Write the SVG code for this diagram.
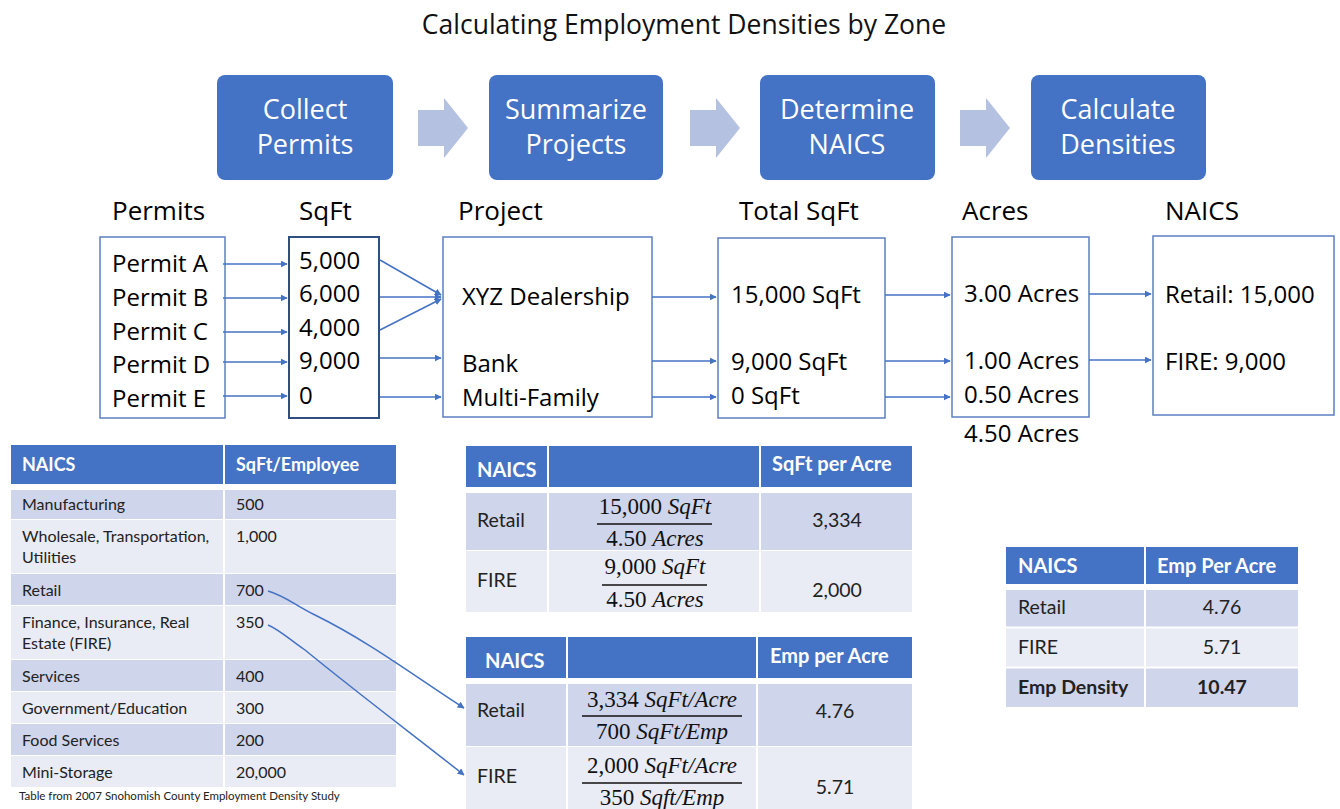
<svg xmlns="http://www.w3.org/2000/svg" width="1340" height="809" viewBox="0 0 1340 809">
<style>
.flow{font-family:"Open Sans",sans-serif;font-size:24px;fill:#000}
.hdr{font-family:"Open Sans",sans-serif;font-size:26px;fill:#000}
.step{font-family:"Open Sans",sans-serif;font-size:27px;fill:#fff;text-anchor:middle}
.stepbox{fill:#4472C4}
.chev{fill:#B4C1E1}
.box{fill:#fff;stroke:#5B7FC0;stroke-width:1.5}
.box2{fill:#fff;stroke:#2F4F80;stroke-width:2}
.conn{stroke:#4472C4;stroke-width:1.5;fill:none;marker-end:url(#ah)}
.th{fill:#4472C4}
.rd{fill:#CFD5EA}
.rl{fill:#E9EBF5}
.tt{font-family:Lato,sans-serif;font-size:16px;fill:#222}
.tw{font-family:Lato,sans-serif;font-size:18px;font-weight:bold;fill:#fff}
.mt{font-family:Lato,sans-serif;font-size:19.5px;fill:#222}
.mh{font-family:Lato,sans-serif;font-size:20px;font-weight:bold;fill:#fff}
.fr{font-family:"Liberation Serif",serif;font-size:23px;fill:#111;text-anchor:middle}
.fr tspan.v{font-style:italic}
.sep{stroke:#fff;stroke-width:2}
.fl{stroke:#111;stroke-width:1.5}
</style>
<defs>
<marker id="ah" viewBox="0 0 10 10" refX="9" refY="5" markerWidth="7" markerHeight="7" orient="auto" markerUnits="userSpaceOnUse">
<path d="M0,0 L10,5 L0,10 z" fill="#4472C4"/>
</marker>
</defs>
<rect width="1340" height="809" fill="#fff"/>
<text x="684" y="34" font-family="Open Sans, sans-serif" font-size="26.5" text-anchor="middle" fill="#111">Calculating Employment Densities by Zone</text>

<g id="step-collect"><rect class="stepbox" x="217" y="75" width="176" height="105" rx="8"/><text class="step" x="305" y="119">Collect</text><text class="step" x="305" y="154">Permits</text></g>
<g id="step-summarize"><rect class="stepbox" x="489" y="75" width="174" height="105" rx="8"/><text class="step" x="576" y="119">Summarize</text><text class="step" x="576" y="154">Projects</text></g>
<g id="step-determine"><rect class="stepbox" x="760" y="75" width="175" height="105" rx="8"/><text class="step" x="847" y="119">Determine</text><text class="step" x="847" y="154">NAICS</text></g>
<g id="step-calculate"><rect class="stepbox" x="1031" y="75" width="175" height="105" rx="8"/><text class="step" x="1118" y="119">Calculate</text><text class="step" x="1118" y="154">Densities</text></g>
<g id="chevrons">
<path class="chev" d="M418,110 H444 V98 L468,128 L444,158 V146 H418 Z"/>
<path class="chev" d="M690,110 H716 V98 L740,128 L716,158 V146 H690 Z"/>
<path class="chev" d="M960,110 H986 V98 L1010,128 L986,158 V146 H960 Z"/>
</g>

<g id="col-headers">
<text class="hdr" x="112" y="220">Permits</text>
<text class="hdr" x="299" y="220">SqFt</text>
<text class="hdr" x="458" y="220">Project</text>
<text class="hdr" x="739" y="220">Total SqFt</text>
<text class="hdr" x="962" y="220">Acres</text>
<text class="hdr" x="1165" y="220">NAICS</text>
</g>

<g id="permits">
<rect class="box" x="100" y="237" width="125" height="181"/>
<text class="flow" x="112" y="272">Permit A</text>
<text class="flow" x="112" y="306">Permit B</text>
<text class="flow" x="112" y="340">Permit C</text>
<text class="flow" x="112" y="373">Permit D</text>
<text class="flow" x="112" y="407">Permit E</text>
</g>
<g id="sqft">
<rect class="box2" x="289" y="237" width="90" height="181"/>
<text class="flow" x="299" y="269">5,000</text>
<text class="flow" x="299" y="302">6,000</text>
<text class="flow" x="299" y="336">4,000</text>
<text class="flow" x="299" y="369">9,000</text>
<text class="flow" x="299" y="404">0</text>
</g>
<g id="project">
<rect class="box" x="443" y="237" width="209" height="180"/>
<text class="flow" x="462" y="305">XYZ Dealership</text>
<text class="flow" x="462" y="372">Bank</text>
<text class="flow" x="462" y="406">Multi-Family</text>
</g>
<g id="total">
<rect class="box" x="718" y="238" width="167" height="180"/>
<text class="flow" x="731" y="303">15,000 SqFt</text>
<text class="flow" x="731" y="370">9,000 SqFt</text>
<text class="flow" x="731" y="404">0 SqFt</text>
</g>
<g id="acres">
<rect class="box" x="952" y="237" width="137" height="180"/>
<text class="flow" x="964" y="302">3.00 Acres</text>
<text class="flow" x="964" y="369">1.00 Acres</text>
<text class="flow" x="964" y="403">0.50 Acres</text>
<text class="flow" x="964" y="442">4.50 Acres</text>
</g>
<g id="naics">
<rect class="box" x="1153" y="236" width="181" height="179"/>
<text class="flow" x="1165" y="303">Retail: 15,000</text>
<text class="flow" x="1165" y="370">FIRE: 9,000</text>
</g>

<g id="table-sqft-employee">
<rect class="th" x="11" y="445" width="385" height="39"/>
<line class="sep" x1="224" y1="445" x2="224" y2="484"/>
<text class="tw" x="22" y="471">NAICS</text>
<text class="tw" x="236" y="471">SqFt/Employee</text>
<rect class="rd" x="11" y="490" width="385" height="29"/>
<rect class="rl" x="11" y="520" width="385" height="53"/>
<rect class="rd" x="11" y="574" width="385" height="31"/>
<rect class="rl" x="11" y="606" width="385" height="53"/>
<rect class="rd" x="11" y="660" width="385" height="31"/>
<rect class="rl" x="11" y="692" width="385" height="31"/>
<rect class="rd" x="11" y="724" width="385" height="31"/>
<rect class="rl" x="11" y="756" width="385" height="31"/>
<line class="sep" x1="224" y1="490" x2="224" y2="787"/>
<text class="tt" x="22" y="510">Manufacturing</text><text class="tt" x="236" y="510">500</text>
<text class="tt" x="22" y="542">Wholesale, Transportation,</text><text class="tt" x="22" y="563">Utilities</text><text class="tt" x="236" y="542">1,000</text>
<text class="tt" x="22" y="596">Retail</text><text class="tt" x="236" y="596">700</text>
<text class="tt" x="22" y="628">Finance, Insurance, Real</text><text class="tt" x="22" y="649">Estate (FIRE)</text><text class="tt" x="236" y="628">350</text>
<text class="tt" x="22" y="682">Services</text><text class="tt" x="236" y="682">400</text>
<text class="tt" x="22" y="714">Government/Education</text><text class="tt" x="236" y="714">300</text>
<text class="tt" x="22" y="746">Food Services</text><text class="tt" x="236" y="746">200</text>
<text class="tt" x="22" y="778">Mini-Storage</text><text class="tt" x="236" y="778">20,000</text>
<text x="19" y="800" font-family="Lato, sans-serif" font-size="11.5" fill="#222">Table from 2007 Snohomish County Employment Density Study</text>
</g>

<g id="table-sqft-acre">
<rect class="th" x="466" y="446" width="446" height="41"/>
<line class="sep" x1="548" y1="446" x2="548" y2="487"/>
<line class="sep" x1="760" y1="446" x2="760" y2="487"/>
<text class="mh" x="477" y="477">NAICS</text>
<text class="mh" x="772" y="471">SqFt per Acre</text>
<rect class="rd" x="466" y="493" width="446" height="57"/>
<rect class="rl" x="466" y="551" width="446" height="61"/>
<line class="sep" x1="548" y1="493" x2="548" y2="612"/>
<line class="sep" x1="760" y1="493" x2="760" y2="612"/>
<text class="mt" x="477" y="527">Retail</text>
<text class="fr" x="655" y="514">15,000 <tspan class="v">SqFt</tspan></text>
<line class="fl" x1="597" y1="524" x2="712" y2="524"/>
<text class="fr" x="655" y="546">4.50 <tspan class="v">Acres</tspan></text>
<text class="mt" x="837" y="527" text-anchor="middle">3,334</text>
<text class="mt" x="477" y="587">FIRE</text>
<text class="fr" x="655" y="574">9,000 <tspan class="v">SqFt</tspan></text>
<line class="fl" x1="602" y1="585" x2="707" y2="585"/>
<text class="fr" x="655" y="607">4.50 <tspan class="v">Acres</tspan></text>
<text class="mt" x="837" y="597" text-anchor="middle">2,000</text>
</g>

<g id="table-emp-acre">
<rect class="th" x="466" y="637" width="446" height="41"/>
<line class="sep" x1="567" y1="637" x2="567" y2="678"/>
<line class="sep" x1="757" y1="637" x2="757" y2="678"/>
<text class="mh" x="485" y="668">NAICS</text>
<text class="mh" x="770" y="663">Emp per Acre</text>
<rect class="rd" x="466" y="684" width="446" height="62"/>
<rect class="rl" x="466" y="747" width="446" height="62"/>
<line class="sep" x1="567" y1="684" x2="567" y2="809"/>
<line class="sep" x1="757" y1="684" x2="757" y2="809"/>
<text class="mt" x="477" y="717">Retail</text>
<text class="fr" x="662" y="707">3,334 <tspan class="v">SqFt/Acre</tspan></text>
<line class="fl" x1="582" y1="716" x2="742" y2="716"/>
<text class="fr" x="662" y="739">700 <tspan class="v">SqFt/Emp</tspan></text>
<text class="mt" x="835" y="718" text-anchor="middle">4.76</text>
<text class="mt" x="477" y="783">FIRE</text>
<text class="fr" x="662" y="773">2,000 <tspan class="v">SqFt/Acre</tspan></text>
<line class="fl" x1="582" y1="783" x2="742" y2="783"/>
<text class="fr" x="662" y="805">350 <tspan class="v">Sqft/Emp</tspan></text>
<text class="mt" x="835" y="794" text-anchor="middle">5.71</text>
</g>

<g id="table-density">
<rect class="th" x="1006" y="547" width="292" height="37"/>
<line class="sep" x1="1145" y1="547" x2="1145" y2="584"/>
<text class="mh" x="1018" y="573">NAICS</text>
<text class="mh" x="1157" y="573">Emp Per Acre</text>
<rect class="rd" x="1006" y="590" width="292" height="37"/>
<rect class="rl" x="1006" y="628" width="292" height="39"/>
<rect class="rd" x="1006" y="668" width="292" height="39"/>
<line class="sep" x1="1145" y1="590" x2="1145" y2="707"/>
<line class="sep" x1="1006" y1="627.5" x2="1298" y2="627.5"/>
<line class="sep" x1="1006" y1="667.5" x2="1298" y2="667.5"/>
<text class="mt" x="1018" y="614">Retail</text>
<text class="mt" x="1222" y="614" text-anchor="middle">4.76</text>
<text class="mt" x="1018" y="654">FIRE</text>
<text class="mt" x="1222" y="654" text-anchor="middle">5.71</text>
<text class="mt" x="1018" y="694" font-weight="bold" fill="#111">Emp Density</text>
<text class="mt" x="1222" y="694" text-anchor="middle" font-weight="bold" fill="#111">10.47</text>
</g>

<g id="connectors">
<line class="conn" x1="223" y1="264" x2="287" y2="264"/>
<line class="conn" x1="223" y1="298" x2="287" y2="298"/>
<line class="conn" x1="223" y1="332" x2="287" y2="332"/>
<line class="conn" x1="223" y1="362" x2="287" y2="362"/>
<line class="conn" x1="223" y1="396" x2="287" y2="396"/>
<line class="conn" x1="380" y1="260" x2="441" y2="295"/>
<line class="conn" x1="380" y1="297" x2="441" y2="297"/>
<line class="conn" x1="380" y1="330" x2="441" y2="299"/>
<line class="conn" x1="380" y1="358" x2="441" y2="358"/>
<line class="conn" x1="380" y1="397" x2="441" y2="397"/>
<line class="conn" x1="652" y1="297" x2="716" y2="297"/>
<line class="conn" x1="652" y1="361" x2="716" y2="361"/>
<line class="conn" x1="652" y1="397" x2="716" y2="397"/>
<line class="conn" x1="885" y1="295" x2="950" y2="295"/>
<line class="conn" x1="885" y1="361" x2="950" y2="361"/>
<line class="conn" x1="885" y1="397" x2="950" y2="397"/>
<line class="conn" x1="1089" y1="294" x2="1151" y2="294"/>
<line class="conn" x1="1089" y1="360" x2="1151" y2="360"/>
<path class="conn" d="M268,591 C285,596 295,605 315,615 C370,642 420,680 464,708"/>
<path class="conn" d="M268,625 C280,630 290,640 305,650 C360,695 420,740 464,775"/>
</g>
</svg>
